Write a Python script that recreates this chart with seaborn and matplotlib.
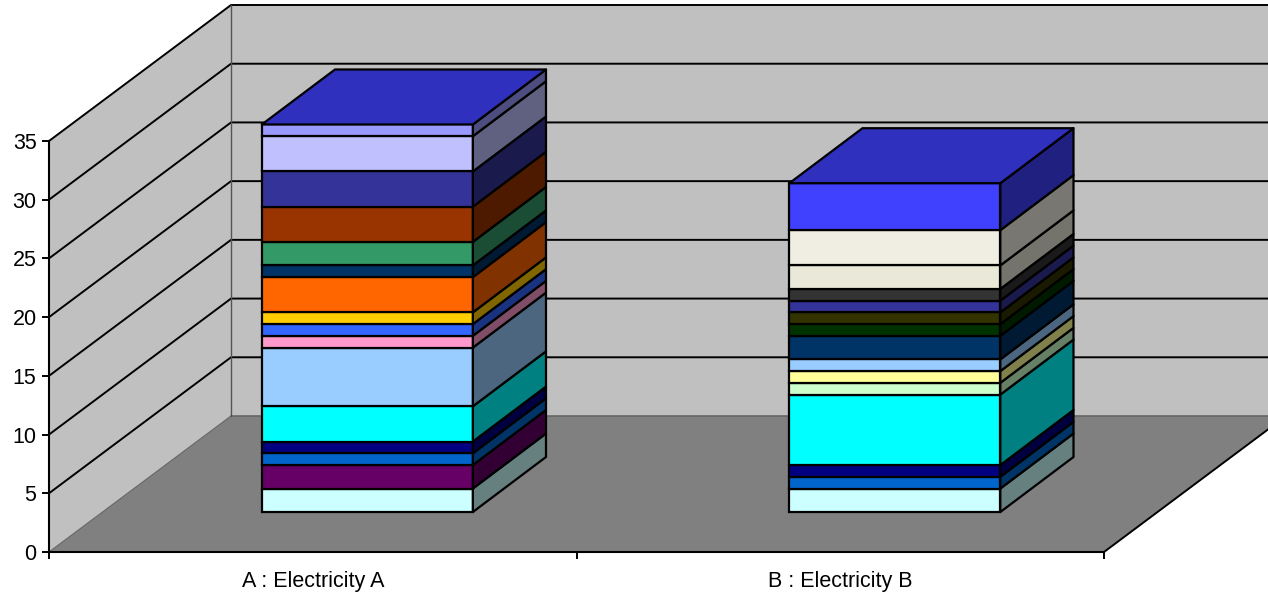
import matplotlib
matplotlib.use("Agg")
import matplotlib.pyplot as plt
from matplotlib.transforms import Affine2D
import seaborn as sns

# --- Data ---
categories = ["A : Electricity A", "B : Electricity B"]

values_a = [2, 2, 1, 1, 3, 5, 1, 1, 1, 3, 1, 2, 3, 3, 3, 1]
colors_a = ["#CCFFFF", "#660066", "#0066CC", "#000080", "#00FFFF", "#99CCFF",
            "#FF99CC", "#3366FF", "#FFCC00", "#FF6600", "#003366", "#339966",
            "#993300", "#333399", "#C0C0FF", "#9999FF"]

values_b = [2, 1, 1, 6, 1, 1, 1, 2, 1, 1, 1, 1, 2, 3, 4]
colors_b = ["#CCFFFF", "#0066CC", "#000080", "#00FFFF", "#CCFFCC", "#FFFF99",
            "#99CCFF", "#003366", "#003300", "#333300", "#333399", "#333333",
            "#EAE8D8", "#F0EEE2", "#4040FF"]

y_ticks = [0, 5, 10, 15, 20, 25, 30, 35]
top_color = "#4040FF"  # last series, zero height on A

# --- Layout (pixels) ---
W, H = 1268, 595
PX_X = (1104 - 49) / 2
PX_Y = (552 - 141) / 35
WALL_DEPTH = 136
SLANT = 182 / 136
BAR_SLANT = 1.33
BAR_SHIFT = 54.6
BAR_FRONT = 40
BAR_BACK = 95
BAR_WIDTH = 0.4
LW = 1.6


def proj(x, v, d):
    # oblique projection: depth in px moves a point up and to the right
    return x + d * SLANT / PX_X, v + d / PX_Y


def proj_bar(x, v, d):
    return x + (BAR_SHIFT + (d - BAR_FRONT) * BAR_SLANT) / PX_X, v + d / PX_Y


def shade(color, k):
    r, g, b = matplotlib.colors.to_rgb(color)
    return (r * k, g * k, b * k)


def poly(ax, pts, color, zorder, ec="black", lw=LW, fn=proj):
    xs, ys = zip(*[fn(*p) for p in pts])
    ax.fill(xs, ys, facecolor=color, edgecolor=ec, linewidth=lw,
            zorder=zorder, clip_on=False, joinstyle="round")


def line(ax, pts, color="black", lw=LW, zorder=1):
    xs, ys = zip(*[proj(*p) for p in pts])
    ax.plot(xs, ys, color=color, linewidth=lw, zorder=zorder, clip_on=False)


def draw_bar(ax, idx, values, colors):
    left, right = idx - BAR_WIDTH / 2, idx + BAR_WIDTH / 2
    offset = ax.transData + Affine2D().translate(BAR_SHIFT, BAR_FRONT)
    base = 0
    for v, c in zip(values, colors):
        n_before = len(ax.patches)
        sns.barplot(x=[categories[idx]], y=[v], order=categories, bottom=base,
                    color=c, saturation=1, width=BAR_WIDTH, edgecolor="black",
                    linewidth=LW, ax=ax, zorder=5)
        for p in ax.patches[n_before:]:
            p.set_transform(offset)
            p.set_clip_on(False)
        poly(ax, [(right, base, BAR_FRONT), (right, base, BAR_BACK),
                  (right, base + v, BAR_BACK), (right, base + v, BAR_FRONT)],
             shade(c, 0.5), 5, fn=proj_bar)
        base += v
    poly(ax, [(left, base, BAR_FRONT), (right, base, BAR_FRONT),
              (right, base, BAR_BACK), (left, base, BAR_BACK)],
         shade(top_color, 0.75), 5, fn=proj_bar)


def main():
    sns.set_theme(style="white")
    plt.rcParams["font.family"] = ["Liberation Sans", "DejaVu Sans"]

    fig = plt.figure(figsize=(W / 100, H / 100), dpi=100)
    ax = fig.add_axes([49 / W, (H - 552) / H, (1104 - 49) / W, (552 - 141) / H])
    ax.patch.set_alpha(0)

    x0, x1, top = -0.5, 1.5, y_ticks[-1]

    # walls and floor
    poly(ax, [(x0, 0, WALL_DEPTH), (x1, 0, WALL_DEPTH),
              (x1, top, WALL_DEPTH), (x0, top, WALL_DEPTH)], "#C0C0C0", 0, ec="none")
    poly(ax, [(x0, 0, 0), (x0, top, 0), (x0, top, WALL_DEPTH), (x0, 0, WALL_DEPTH)],
         "#C0C0C0", 0, ec="none")
    poly(ax, [(x0, 0, 0), (x1, 0, 0), (x1, 0, WALL_DEPTH), (x0, 0, WALL_DEPTH)],
         "#808080", 0.5, ec="none")

    for t in y_ticks[1:]:
        line(ax, [(x0, t, 0), (x0, t, WALL_DEPTH), (x1, t, WALL_DEPTH)], lw=1.4)
    line(ax, [(x0, 0, WALL_DEPTH), (x1, 0, WALL_DEPTH)], color="#666666", lw=1.2)
    line(ax, [(x0, 0, 0), (x0, 0, WALL_DEPTH)], color="#666666", lw=0.8)
    line(ax, [(x0, 0, WALL_DEPTH), (x0, top, WALL_DEPTH)], color="#555555", lw=1.0)
    line(ax, [(x1, 0, 0), (x1, 0, WALL_DEPTH)], lw=1.4)

    draw_bar(ax, 0, values_a, colors_a)
    draw_bar(ax, 1, values_b, colors_b)

    # axes
    ax.set_xlim(x0, x1)
    ax.set_ylim(0, top)
    ax.set_xlabel("")
    ax.set_ylabel("")
    ax.set_yticks(y_ticks)
    ax.set_xticks([x0, 0.5, x1], labels=["", "", ""])
    ax.set_xticks([0, 1], labels=categories, minor=True)
    ax.tick_params(axis="y", which="major", left=True, length=5, width=1.4,
                   color="black", labelcolor="black", labelsize=15.5, pad=4)
    ax.tick_params(axis="x", which="major", bottom=True, length=5, width=1.4,
                   color="black")
    ax.tick_params(axis="x", which="minor", bottom=False, length=0,
                   labelcolor="black", labelsize=15.5, pad=14)
    for name in ["top", "right"]:
        ax.spines[name].set_visible(False)
    for name in ["left", "bottom"]:
        ax.spines[name].set_color("black")
        ax.spines[name].set_linewidth(1.5)

    fig.savefig("out.png", dpi=100, facecolor="white")


if __name__ == "__main__":
    main()
